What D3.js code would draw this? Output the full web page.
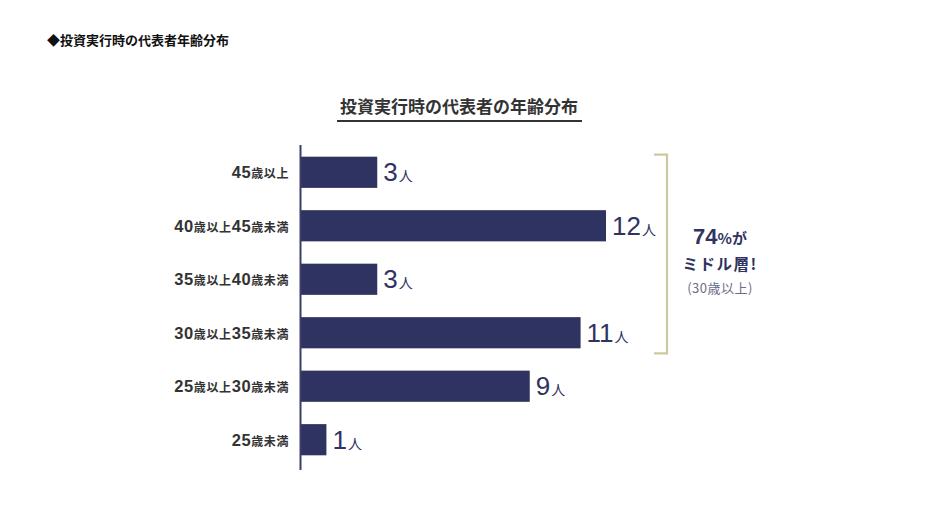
<!DOCTYPE html>
<html>
<head>
<meta charset="utf-8">
<script src="https://cdn.jsdelivr.net/npm/d3@7"></script>
<style>
    body { margin: 0; background: #fff; }
    svg { display: block; font-family: "Noto Sans CJK JP", "Noto Sans", sans-serif; }
    .num { font-family: "Liberation Sans", "Noto Sans CJK JP", sans-serif; }
</style>
</head>
<body>
<div id="chart"></div>
<script>
// 年齢区分（上から順）: [数字, 単位, 数字, 単位]
const ageGroups = [
    ['45', '歳以上'],
    ['40', '歳以上', '45', '歳未満'],
    ['35', '歳以上', '40', '歳未満'],
    ['30', '歳以上', '35', '歳未満'],
    ['25', '歳以上', '30', '歳未満'],
    ['25', '歳未満']
];
const counts = [3, 12, 3, 11, 9, 1];
const unitLabel = '人';
const headerText = '◆投資実行時の代表者年齢分布';
const titleText = '投資実行時の代表者の年齢分布';
// 30歳以上のグループ（括弧でまとめる範囲）
const bracketGroups = [0, 3];
const noteLines = ['74%が', 'ミドル層!', '(30歳以上)'];

const width = 940, height = 529;
const navy = '#2f3361';

const svg = d3.select('#chart').append('svg')
    .attr('width', width)
    .attr('height', height);

// 見出し
svg.append('text')
    .attr('x', 47)
    .attr('y', 45)
    .attr('font-size', 13)
    .attr('font-weight', 700)
    .attr('fill', '#111')
    .text(headerText);

// タイトルと下線
svg.append('text')
    .attr('x', 459)
    .attr('y', 113)
    .attr('text-anchor', 'middle')
    .attr('font-size', 17)
    .attr('font-weight', 700)
    .attr('fill', '#333')
    .text(titleText);

svg.append('line')
    .attr('x1', 337).attr('x2', 582)
    .attr('y1', 121).attr('y2', 121)
    .attr('stroke', '#333')
    .attr('stroke-width', 2.2);

// スケール
const x = d3.scaleLinear()
    .domain([0, 12])
    .range([301, 606]);

const y = d3.scaleBand()
    .domain(d3.range(counts.length))
    .range([146, 466])
    .paddingInner(0.417)
    .paddingOuter(0.2);

// 棒
svg.append('g')
    .selectAll('rect')
    .data(counts)
    .enter()
    .append('rect')
    .attr('x', x(0))
    .attr('y', (d, i) => y(i))
    .attr('width', d => x(d) - x(0))
    .attr('height', y.bandwidth())
    .attr('fill', navy);

// 軸線
svg.append('line')
    .attr('x1', 300.5).attr('x2', 300.5)
    .attr('y1', 145).attr('y2', 470)
    .attr('stroke', '#3a3e6a')
    .attr('stroke-width', 2);

// カテゴリーラベル
const labels = svg.append('g')
    .selectAll('text')
    .data(ageGroups)
    .enter()
    .append('text')
    .attr('x', 289)
    .attr('y', (d, i) => y(i) + y.bandwidth() / 2 + 6)
    .attr('text-anchor', 'end')
    .attr('font-weight', 700)
    .attr('letter-spacing', 0.6)
    .attr('fill', '#333');

labels.each(function (d) {
    const t = d3.select(this);
    d.forEach((s, k) => {
        t.append('tspan')
            .attr('class', k % 2 === 0 ? 'num' : null)
            .attr('font-size', k % 2 === 0 ? 16.5 : 12)
            .text(s);
    });
});

// 値ラベル
const values = svg.append('g')
    .selectAll('text')
    .data(counts)
    .enter()
    .append('text')
    .attr('x', d => x(d) + 6)
    .attr('y', (d, i) => y(i) + y.bandwidth() / 2 + 9)
    .attr('fill', navy);

values.append('tspan')
    .attr('class', 'num')
    .attr('font-size', 26)
    .attr('font-weight', 400)
    .text(d => d);

values.append('tspan')
    .attr('font-size', 14)
    .attr('font-weight', 400)
    .attr('dx', 1)
    .text(unitLabel);

// 括弧
const bTop = y(bracketGroups[0]) - 2;
const bBottom = y(bracketGroups[1]) + y.bandwidth() + 5;
svg.append('path')
    .attr('d', `M654,${bTop}H667V${bBottom}H654`)
    .attr('fill', 'none')
    .attr('stroke', '#cdc99f')
    .attr('stroke-width', 2.2);

// 注記
const noteX = 720;
const n1 = svg.append('text')
    .attr('x', noteX)
    .attr('y', 244)
    .attr('text-anchor', 'middle')
    .attr('font-weight', 700)
    .attr('fill', navy);
n1.append('tspan').attr('class', 'num').attr('font-size', 22).text(noteLines[0].slice(0, 2));
n1.append('tspan').attr('font-size', 15).text(noteLines[0].slice(2));

svg.append('text')
    .attr('x', noteX)
    .attr('y', 270)
    .attr('text-anchor', 'middle')
    .attr('font-size', 15.5)
    .attr('font-weight', 700)
    .attr('letter-spacing', 1.5)
    .attr('fill', navy)
    .text(noteLines[1]);

svg.append('text')
    .attr('x', noteX)
    .attr('y', 293)
    .attr('text-anchor', 'middle')
    .attr('font-size', 13)
    .attr('letter-spacing', 0.5)
    .attr('fill', '#6a6d88')
    .text(noteLines[2]);
</script>
</body>
</html>
